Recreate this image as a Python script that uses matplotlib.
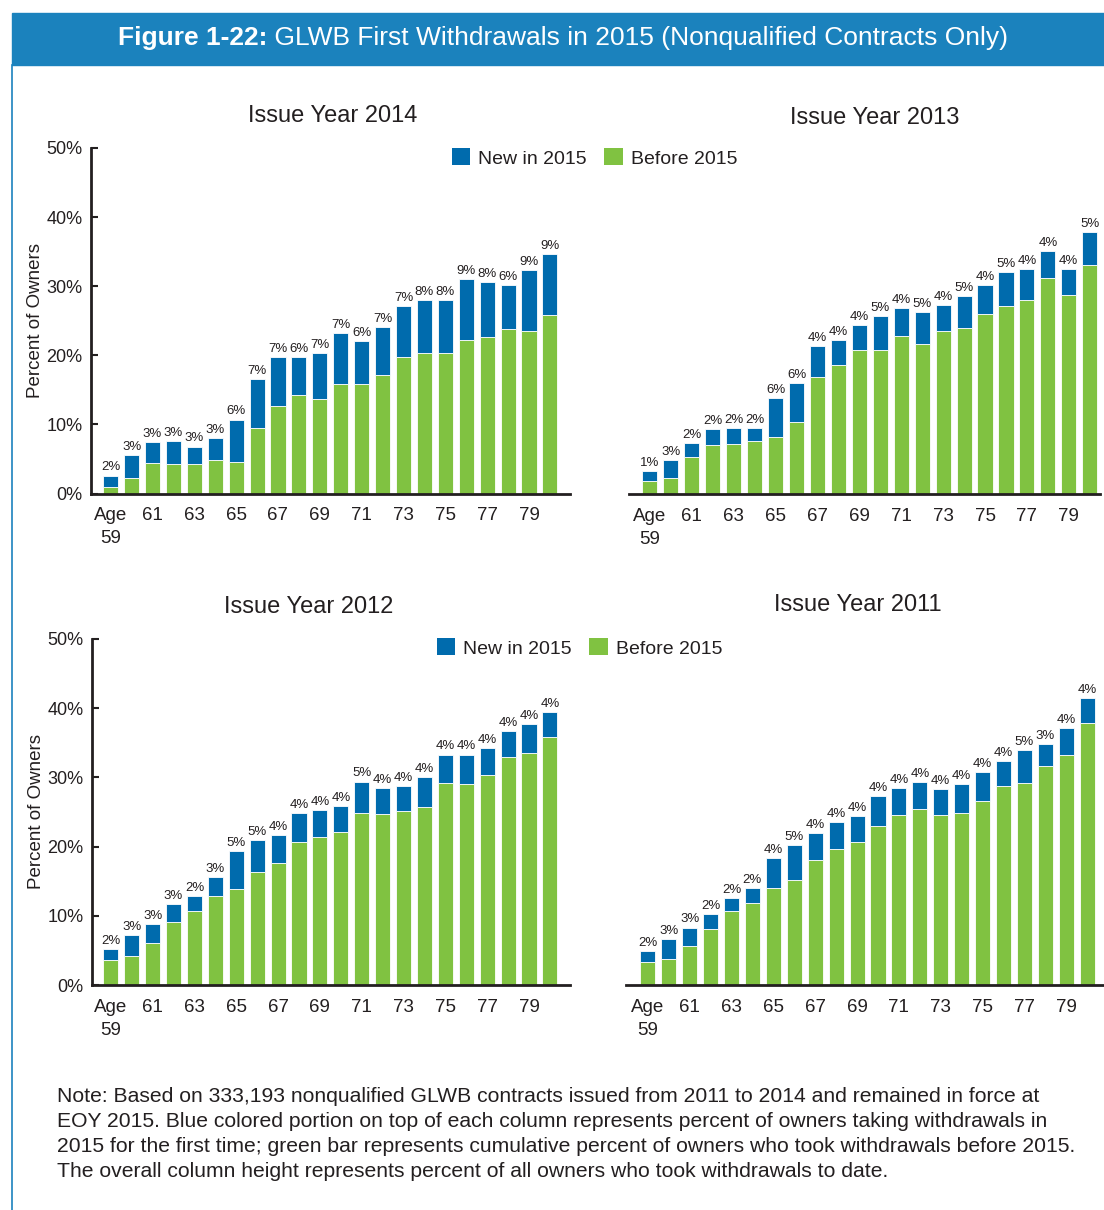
import matplotlib
matplotlib.use("Agg")
import matplotlib.pyplot as plt
from matplotlib.patches import Patch, Rectangle
from matplotlib.lines import Line2D

plt.rcParams['font.family'] = ['Liberation Sans', 'DejaVu Sans']

ages = list(range(59, 81))
tick_idx = list(range(0, 21, 2))
tick_labels = ["Age\n59"] + [str(a) for a in range(61, 80, 2)]

# green part (before 2015) and blue part (new in 2015), percent of owners
before_2014 = [1.0, 2.2, 4.4, 4.3, 4.2, 4.8, 4.5, 9.5, 12.7, 14.2, 13.7,
               15.9, 15.8, 17.2, 19.8, 20.4, 20.4, 22.2, 22.6, 23.8, 23.5, 25.9]
new_2014 = [1.6, 3.3, 3.1, 3.3, 2.6, 3.2, 6.2, 7.0, 7.1, 5.6, 6.6,
            7.3, 6.3, 6.9, 7.3, 7.6, 7.6, 8.9, 8.0, 6.4, 8.9, 8.7]

before_2013 = [1.9, 2.3, 5.3, 7.1, 7.3, 7.6, 8.3, 10.4, 17.0, 18.6, 20.8,
               20.9, 22.9, 21.7, 23.6, 24.0, 26.1, 27.2, 28.1, 31.2, 28.8, 33.1]
new_2013 = [1.4, 2.6, 2.1, 2.3, 2.3, 2.0, 5.6, 5.6, 4.4, 3.7, 3.7,
            4.8, 4.0, 4.6, 3.7, 4.7, 4.1, 4.9, 4.4, 4.0, 3.7, 4.8]

before_2012 = [3.6, 4.2, 6.1, 9.1, 10.7, 12.9, 13.9, 16.4, 17.6, 20.7, 21.4,
               22.1, 24.8, 24.7, 25.1, 25.7, 29.2, 29.1, 30.4, 33.0, 33.5, 35.8]
new_2012 = [1.6, 3.0, 2.7, 2.6, 2.2, 2.7, 5.4, 4.6, 4.1, 4.1, 3.9,
            3.8, 4.6, 3.7, 3.7, 4.4, 4.1, 4.2, 3.9, 3.7, 4.2, 3.7]

before_2011 = [3.3, 3.8, 5.7, 8.1, 10.7, 11.8, 14.0, 15.2, 18.0, 19.6, 20.6,
               23.0, 24.6, 25.4, 24.6, 24.9, 26.6, 28.7, 29.2, 31.7, 33.2, 37.8]
new_2011 = [1.6, 2.8, 2.6, 2.2, 1.9, 2.2, 4.3, 5.0, 4.0, 3.9, 3.8,
            4.3, 3.8, 3.9, 3.7, 4.2, 4.2, 3.6, 4.8, 3.1, 3.9, 3.7]

BLUE = '#006bad'
GREEN = '#80c241'
DARK = '#231f20'
HEAD = '#1b82bd'

W, H = 1104, 1210
fig = plt.figure(figsize=(W / 100, H / 100), dpi=100)


def box(x0, y0, x1, y1):
    return [x0 / W, 1 - y1 / H, (x1 - x0) / W, (y1 - y0) / H]


def panel(rect, xlim, before, new, title, title_xy, show_y):
    ax = fig.add_axes(rect)
    x = list(range(len(ages)))
    ax.bar(x, before, width=0.72, color=GREEN, edgecolor='white', linewidth=0.6)
    ax.bar(x, new, width=0.72, bottom=before, color=BLUE, edgecolor='white', linewidth=0.6)
    for i in x:
        ax.text(i, before[i] + new[i] + 0.3, f"{round(new[i])}%", ha='center', va='bottom',
                fontsize=9.5, color=DARK)
    ax.set_xlim(*xlim)
    ax.set_ylim(0, 50)
    ax.set_xticks(tick_idx)
    ax.set_xticklabels(tick_labels, fontsize=13.5, color=DARK, va='top', linespacing=1.45)
    ax.tick_params(axis='x', length=0, pad=10)
    for s in ['top', 'right']:
        ax.spines[s].set_visible(False)
    ax.spines['bottom'].set_linewidth(2)
    ax.spines['bottom'].set_color(DARK)
    if show_y:
        ax.spines['left'].set_linewidth(2)
        ax.spines['left'].set_color(DARK)
        ax.set_yticks(range(0, 51, 10))
        ax.set_yticklabels([f"{v}%" for v in range(0, 51, 10)], fontsize=13, color=DARK)
        ax.tick_params(axis='y', direction='in', length=5, width=1.5, pad=6, color=DARK)
        ax.set_ylabel("Percent of Owners", fontsize=13.5, color=DARK)
        ax.yaxis.set_label_coords(-0.098, 0.5)
    else:
        ax.spines['left'].set_visible(False)
        ax.set_yticks([])
    fig.text(title_xy[0] / W, 1 - title_xy[1] / H, title, ha='center', va='center',
             fontsize=17, color=DARK)
    return ax


panel(box(91, 148, 570, 493.5), (-0.94, 21.96), before_2014, new_2014,
      "Issue Year 2014", (333, 116), True)
panel(box(629, 148.5, 1100, 494), (-1.0, 21.49), before_2013, new_2013,
      "Issue Year 2013", (875, 118), False)
panel(box(92, 639, 570, 985), (-0.9, 21.96), before_2012, new_2012,
      "Issue Year 2012", (309, 607), True)
panel(box(626, 639, 1103, 985), (-1.04, 21.75), before_2011, new_2011,
      "Issue Year 2011", (858, 605), False)

handles = [Patch(facecolor=BLUE), Patch(facecolor=GREEN)]
for lx, ly in [(452, 158), (437, 648)]:
    fig.legend(handles, ["New in 2015", "Before 2015"], loc='center left',
               bbox_to_anchor=(lx / W, 1 - ly / H), ncol=2, frameon=False,
               fontsize=14, handlelength=0.95, handleheight=0.95,
               handletextpad=0.4, columnspacing=0.9, borderaxespad=0, borderpad=0,
               labelcolor=DARK)

# header band and frame line
fig.patches.append(Rectangle((12 / W, 1 - 65 / H), 1 - 12 / W, 52 / H,
                             transform=fig.transFigure, color=HEAD, zorder=0))
fig.lines.append(Line2D([12 / W, 12 / W], [0, 1 - 65 / H], transform=fig.transFigure,
                        color=HEAD, linewidth=1.2))

renderer = fig.canvas.get_renderer()
t1 = fig.text(0, 1 - 38 / H, "Figure 1-22:", fontsize=19, fontweight='bold',
              color='white', ha='left', va='center')
t2 = fig.text(0, 1 - 38 / H, " GLWB First Withdrawals in 2015 (Nonqualified Contracts Only)",
              fontsize=19, color='white', ha='left', va='center')
w1 = t1.get_window_extent(renderer).width
w2 = t2.get_window_extent(renderer).width
start = 563 - (w1 + w2) / 2
t1.set_x(start / W)
t2.set_x((start + w1) / W)

note = ("Note: Based on 333,193 nonqualified GLWB contracts issued from 2011 to 2014 and remained in force at\n"
        "EOY 2015. Blue colored portion on top of each column represents percent of owners taking withdrawals in\n"
        "2015 for the first time; green bar represents cumulative percent of owners who took withdrawals before 2015.\n"
        "The overall column height represents percent of all owners who took withdrawals to date.")
fig.text(57 / W, 1 - 1087 / H, note, ha='left', va='top', fontsize=15.2,
         color=DARK, linespacing=1.4)

fig.savefig("out.png", dpi=100, facecolor='white')
